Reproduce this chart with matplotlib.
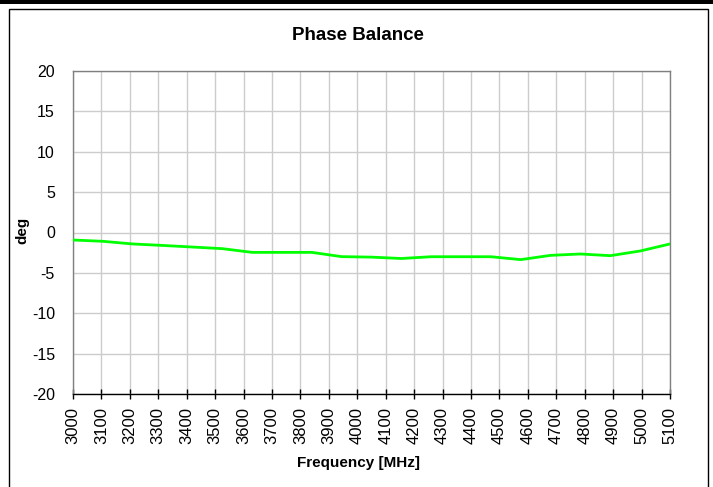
import matplotlib
matplotlib.use("Agg")
import matplotlib.pyplot as plt
from matplotlib.patches import Rectangle

plt.rcParams['font.family'] = ['Liberation Sans', 'DejaVu Sans']

# Measured phase balance (deg) vs frequency (MHz)
freq_mhz = [3000, 3105, 3210, 3315, 3420, 3525, 3630, 3735, 3840, 3945, 4050,
            4155, 4260, 4365, 4470, 4575, 4680, 4785, 4890, 4995, 5100]
phase_deg = [-0.93, -1.09, -1.42, -1.6, -1.8, -2.0, -2.46, -2.46, -2.46, -2.99, -3.05,
             -3.22, -3.0, -3.0, -3.0, -3.36, -2.83, -2.66, -2.87, -2.29, -1.42]

x_ticks = list(range(3000, 5101, 100))
y_ticks = list(range(-20, 21, 5))

W, H = 713, 487
fig = plt.figure(figsize=(W / 100, H / 100), dpi=100)

# outer frame (bottom edge runs off the image) and top band
fig.patches.append(Rectangle((0, 1 - 4 / H), 1, 4 / H, transform=fig.transFigure,
                             facecolor='black', edgecolor='none'))
fig.patches.append(Rectangle((9 / W, -10 / H), 699 / W, (488) / H, transform=fig.transFigure,
                             facecolor='none', edgecolor='black', linewidth=1.0))

ax = fig.add_axes([73 / W, (H - 394) / H, (670 - 73) / W, (394 - 71) / H])

ax.plot(freq_mhz, phase_deg, color='#00ff00', linewidth=2.0, zorder=3)

ax.set_xlim(3000, 5100)
ax.set_ylim(-20, 20)
ax.set_xticks(x_ticks)
ax.set_xticklabels([str(v) for v in x_ticks], rotation=90, fontsize=12)
ax.set_yticks(y_ticks)
ax.set_yticklabels([str(v) for v in y_ticks], fontsize=11.5)

ax.grid(True, color='#cccccc', linewidth=1.0)
ax.set_axisbelow(True)

for side in ['left', 'top', 'right']:
    ax.spines[side].set_color('#808080')
    ax.spines[side].set_linewidth(1.0)
ax.spines['bottom'].set_color('black')
ax.spines['bottom'].set_linewidth(1.0)

ax.tick_params(axis='y', length=0, pad=13)
ax.tick_params(axis='x', direction='inout', length=7, width=1.0, pad=6)

fig.text(358 / W, 1 - 36 / H, 'Phase Balance', ha='center', va='center',
         fontsize=13.5, fontweight='bold')
fig.text(358 / W, 1 - 463 / H, 'Frequency [MHz]', ha='center', va='center',
         fontsize=11, fontweight='bold')
fig.text(22 / W, 1 - 230 / H, 'deg', ha='center', va='center', rotation=90,
         fontsize=11, fontweight='bold')

fig.savefig('out.png', dpi=100)
